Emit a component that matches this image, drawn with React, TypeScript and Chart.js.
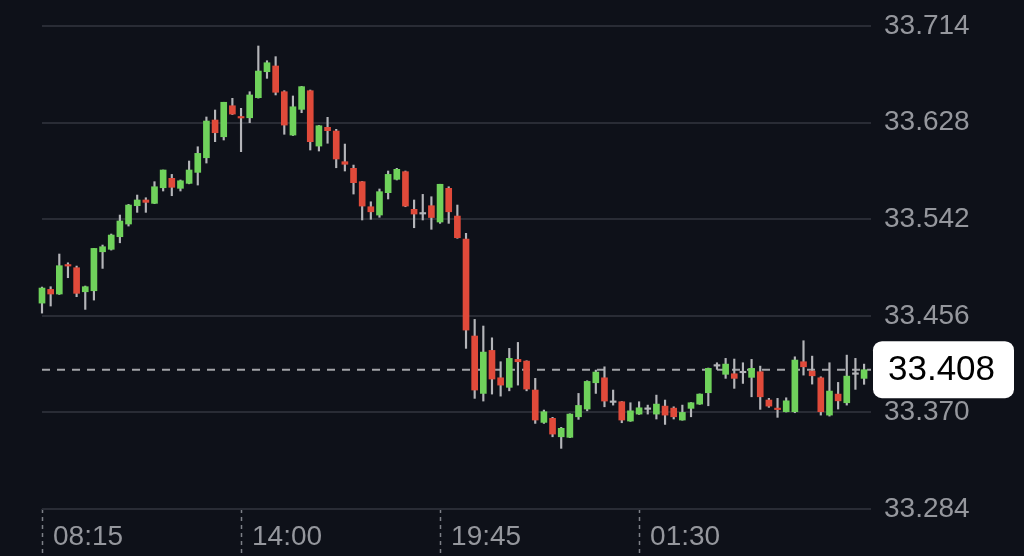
import React, { useEffect, useRef } from 'react';
import Chart from 'chart.js/auto';

// 15-minute candles
const opens = [
  33.4673, 33.4795, 33.4754, 33.5012, 33.4988, 33.4774, 33.4783, 33.5130, 33.5152, 33.5264,
  33.5377, 33.5540, 33.5591, 33.5561, 33.5700, 33.5784, 33.5695, 33.5739, 33.5837, 33.5967,
  33.6303, 33.6154, 33.6430, 33.6330, 33.6323, 33.6502, 33.6733, 33.6784, 33.6555, 33.6169,
  33.6398, 33.6564, 33.6071, 33.6238, 33.6205, 33.5932, 33.5873, 33.5754, 33.5531, 33.5457,
  33.5656, 33.5775, 33.5843, 33.5508, 33.5466, 33.5540, 33.5395, 33.5695, 33.5448, 33.5243,
  33.4380, 33.3869, 33.4252, 33.4008, 33.3923, 33.4172, 33.4157, 33.3899, 33.3611, 33.3647,
  33.3483, 33.3478, 33.3661, 33.3730, 33.3964, 33.4008, 33.3789, 33.3795, 33.3623, 33.3685,
  33.3727, 33.3685, 33.3756, 33.3738, 33.3632, 33.3736, 33.3774, 33.3875, 33.4112, 33.4039,
  33.4044, 33.4053, 33.4012, 33.4062, 33.3810, 33.3734, 33.3706, 33.3706, 33.4151, 33.4068,
  33.4008, 33.3676, 33.3863, 33.3786, 33.4039, 33.4003,
];
const highs = [
  33.4816, 33.4819, 33.5110, 33.5032, 33.5003, 33.4825, 33.5160, 33.5190, 33.5288, 33.5457,
  33.5552, 33.5635, 33.5611, 33.5754, 33.5858, 33.5819, 33.5769, 33.5938, 33.6065, 33.6330,
  33.6392, 33.6461, 33.6496, 33.6407, 33.6555, 33.6962, 33.6831, 33.6867, 33.6564, 33.6517,
  33.6603, 33.6570, 33.6255, 33.6327, 33.6220, 33.6089, 33.5902, 33.5756, 33.5575, 33.5689,
  33.5849, 33.5873, 33.5849, 33.5591, 33.5641, 33.5620, 33.5731, 33.5709, 33.5546, 33.5294,
  33.4528, 33.4469, 33.4364, 33.4151, 33.4270, 33.4323, 33.4160, 33.4003, 33.3721, 33.3656,
  33.3567, 33.3688, 33.3869, 33.3982, 33.4077, 33.4106, 33.3899, 33.3797, 33.3786, 33.3795,
  33.3765, 33.3854, 33.3810, 33.3750, 33.3765, 33.3788, 33.3865, 33.4095, 33.4142, 33.4181,
  33.4175, 33.4142, 33.4172, 33.4112, 33.3825, 33.3825, 33.3830, 33.4195, 33.4338, 33.4201,
  33.4017, 33.4142, 33.3967, 33.4210, 33.4181, 33.4130,
];
const lows = [
  33.4584, 33.4647, 33.4750, 33.4899, 33.4730, 33.4617, 33.4700, 33.4982, 33.5145, 33.5210,
  33.5359, 33.5481, 33.5481, 33.5558, 33.5671, 33.5629, 33.5671, 33.5735, 33.5724, 33.5920,
  33.6110, 33.6125, 33.6352, 33.6021, 33.6279, 33.6498, 33.6674, 33.6526, 33.6176, 33.6165,
  33.6368, 33.6036, 33.6027, 33.6096, 33.5878, 33.5849, 33.5644, 33.5413, 33.5419, 33.5437,
  33.5600, 33.5769, 33.5531, 33.5344, 33.5413, 33.5330, 33.5383, 33.5383, 33.5250, 33.4270,
  33.3825, 33.3801, 33.3863, 33.3845, 33.3892, 33.3943, 33.3892, 33.3602, 33.3602, 33.3483,
  33.3380, 33.3475, 33.3638, 33.3714, 33.3869, 33.3750, 33.3765, 33.3608, 33.3620, 33.3682,
  33.3685, 33.3641, 33.3593, 33.3641, 33.3630, 33.3661, 33.3771, 33.3759, 33.4083, 33.4003,
  33.3914, 33.3958, 33.3839, 33.3727, 33.3745, 33.3656, 33.3703, 33.3697, 33.4032, 33.3952,
  33.3676, 33.3667, 33.3730, 33.3765, 33.3905, 33.3950,
];
const closes = [
  33.4807, 33.4754, 33.5006, 33.5003, 33.4760, 33.4819, 33.5160, 33.5175, 33.5279, 33.5404,
  33.5546, 33.5591, 33.5570, 33.5709, 33.5858, 33.5704, 33.5762, 33.5858, 33.6006, 33.6294,
  33.6190, 33.6461, 33.6356, 33.6321, 33.6526, 33.6739, 33.6813, 33.6550, 33.6258, 33.6421,
  33.6600, 33.6110, 33.6252, 33.6208, 33.5956, 33.5909, 33.5745, 33.5537, 33.5486, 33.5665,
  33.5819, 33.5864, 33.5537, 33.5466, 33.5466, 33.5435, 33.5731, 33.5486, 33.5255, 33.4433,
  33.3899, 33.4237, 33.3997, 33.3943, 33.4181, 33.4151, 33.3908, 33.3632, 33.3706, 33.3507,
  33.3558, 33.3685, 33.3762, 33.3976, 33.4059, 33.3801, 33.3789, 33.3632, 33.3714, 33.3741,
  33.3727, 33.3774, 33.3676, 33.3661, 33.3700, 33.3786, 33.3863, 33.4092, 33.4112, 33.4130,
  33.4003, 33.4053, 33.4092, 33.3839, 33.3756, 33.3725, 33.3803, 33.4166, 33.4106, 33.4026,
  33.3706, 33.3890, 33.3803, 33.4023, 33.4039, 33.4080,
];

const priceTicks = [33.284, 33.370, 33.456, 33.542, 33.628, 33.714];
const timeLabels = ['08:15', '14:00', '19:45', '01:30'];
const timeIndices = [0, 23, 46, 69];
const lastPrice = 33.408;

const GREEN = '#6fd25b';
const RED = '#e04a3a';
const WICK = '#b4b5b9';
const FONT = '"Liberation Sans", Arial, sans-serif';

const lastPricePlugin = {
  id: 'lastPrice',
  beforeDatasetsDraw(chart: any) {
    const { ctx, chartArea, scales } = chart;
    const y = scales.y.getPixelForValue(lastPrice);
    ctx.save();
    ctx.strokeStyle = '#a3a4a8';
    ctx.lineWidth = 2;
    ctx.setLineDash([8, 7]);
    ctx.beginPath();
    ctx.moveTo(chartArea.left, y);
    ctx.lineTo(chartArea.right, y);
    ctx.stroke();
    ctx.restore();
  },
  afterDraw(chart: any) {
    const { ctx, scales } = chart;
    const y = scales.y.getPixelForValue(lastPrice);
    const x0 = 873, w = 141, h = 57;
    ctx.save();
    ctx.fillStyle = '#ffffff';
    ctx.beginPath();
    ctx.roundRect(x0, y - h / 2, w, h, 9);
    ctx.fill();
    ctx.fillStyle = '#000000';
    ctx.font = `35px ${FONT}`;
    ctx.textAlign = 'center';
    ctx.textBaseline = 'middle';
    ctx.fillText(lastPrice.toFixed(3), x0 + w / 2 - 2, y + 1);
    ctx.restore();
  },
};

const CandleChart: React.FC = () => {
  const chartRef = useRef<HTMLCanvasElement>(null);
  const chartInstance = useRef<Chart | null>(null);

  useEffect(() => {
    if (!chartRef.current) return;
    if (chartInstance.current) chartInstance.current.destroy();
    const ctx = chartRef.current.getContext('2d');
    if (!ctx) return;

    const bodyColors = opens.map((o, i) =>
      closes[i] > o ? GREEN : closes[i] < o ? RED : WICK
    );

    chartInstance.current = new Chart(ctx, {
      type: 'bar',
      data: {
        datasets: [
          {
            label: 'body',
            data: opens.map((o, i) => ({ x: i, y: [o, closes[i]] })) as any,
            backgroundColor: bodyColors,
            barThickness: 6,
            minBarLength: 1.5,
            grouped: false,
            clip: false as any,
            order: 1,
          },
          {
            label: 'wick',
            data: lows.map((l, i) => ({ x: i, y: [l, highs[i]] })) as any,
            backgroundColor: WICK,
            barThickness: 1.5,
            grouped: false,
            clip: false as any,
            order: 2,
          },
        ],
      },
      options: {
        responsive: false,
        animation: false,
        layout: { padding: { left: 42, top: 26, right: 0, bottom: 0 } },
        plugins: { legend: { display: false }, tooltip: { enabled: false } },
        scales: {
          x: {
            type: 'linear',
            min: 0,
            max: 95.8,
            offset: false,
            afterBuildTicks: (s: any) => {
              s.ticks = timeIndices.map((v) => ({ value: v }));
            },
            afterFit: (s: any) => {
              s.height = 47;
              s.paddingLeft = 0;
              s.paddingRight = 0;
            },
            ticks: {
              autoSkip: false,
              maxRotation: 0,
              align: 'start',
              labelOffset: 11,
              padding: -36,
              color: '#95979d',
              font: { family: FONT, size: 28 },
              callback: (v: any) => timeLabels[timeIndices.indexOf(Number(v))] ?? '',
            },
            grid: {
              offset: false,
              drawOnChartArea: false,
              drawTicks: true,
              tickLength: 47,
              tickColor: '#7d8087',
              tickWidth: 1.5,
              tickBorderDash: [4, 4],
            } as any,
            border: { display: false },
          },
          y: {
            position: 'right',
            min: 33.284,
            max: 33.714,
            afterBuildTicks: (s: any) => {
              s.ticks = priceTicks.map((v) => ({ value: v }));
            },
            afterFit: (s: any) => {
              s.width = 153;
              s.paddingTop = 0;
              s.paddingBottom = 0;
            },
            ticks: {
              padding: 13,
              color: '#95979d',
              font: { family: FONT, size: 28 },
              callback: (v: any) => Number(v).toFixed(3),
            },
            grid: {
              color: '#292c35',
              lineWidth: 2,
              drawTicks: false,
            },
            border: { display: false },
          },
        },
      },
      plugins: [lastPricePlugin],
    });

    return () => {
      if (chartInstance.current) {
        chartInstance.current.destroy();
        chartInstance.current = null;
      }
    };
  }, []);

  return <canvas ref={chartRef} width={1024} height={556} />;
};

const App: React.FC = () => {
  return (
    <div
      style={{
        position: 'fixed',
        left: 0,
        top: 0,
        width: 1024,
        height: 556,
        background: '#0e1119',
      }}
    >
      <CandleChart />
    </div>
  );
};

export default App;
